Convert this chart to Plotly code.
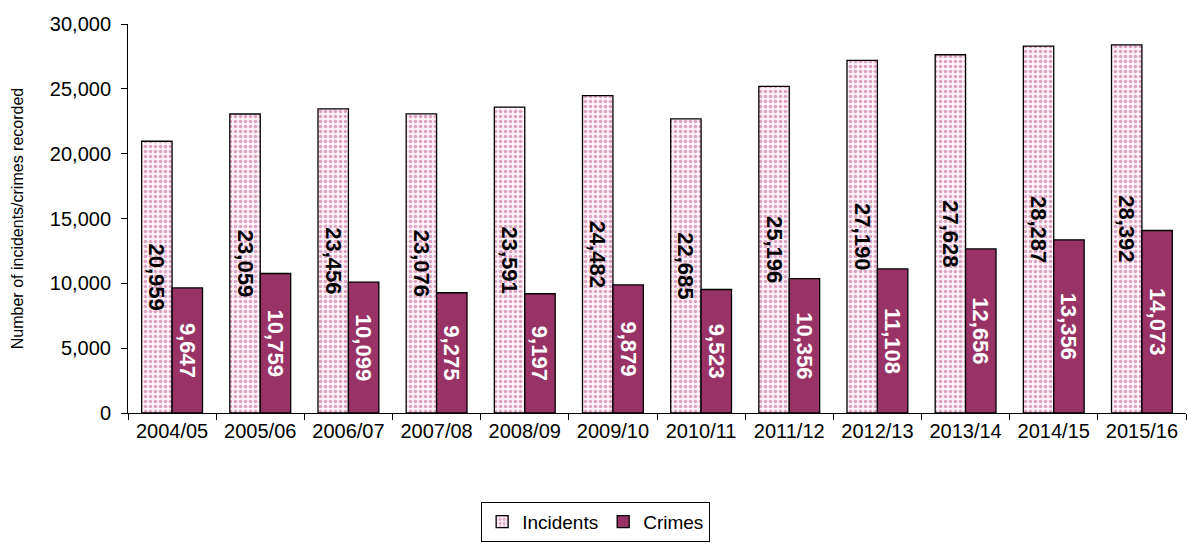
import plotly.graph_objects as go

years = ["2004/05", "2005/06", "2006/07", "2007/08", "2008/09", "2009/10",
         "2010/11", "2011/12", "2012/13", "2013/14", "2014/15", "2015/16"]
incidents = [20959, 23059, 23456, 23076, 23591, 24482, 22685, 25196, 27190, 27628, 28287, 28392]
crimes = [9647, 10759, 10099, 9275, 9197, 9879, 9523, 10356, 11108, 12656, 13356, 14073]

fig = go.Figure()
fig.add_trace(go.Bar(
    x=years, y=incidents, name="Incidents",
    marker=dict(color="white", line=dict(color="black", width=1.3),
                pattern=dict(shape=".", fgcolor="#c0508a", bgcolor="#fdf3f8", size=5, solidity=0.4)),
    text=[f"{v:,}" for v in incidents], textposition="inside", insidetextanchor="middle",
    textangle=90, constraintext="none",
    textfont=dict(family="Arial, Liberation Sans", size=22, color="black", weight="bold"),
))
fig.add_trace(go.Bar(
    x=years, y=crimes, name="Crimes",
    marker=dict(color="#993366", line=dict(color="black", width=1.3)),
    text=[f"{v:,}" for v in crimes], textposition="inside", insidetextanchor="middle",
    textangle=90, constraintext="none",
    textfont=dict(family="Arial, Liberation Sans", size=22, color="white", weight="bold"),
))

fig.update_layout(
    width=1187, height=544,
    margin=dict(l=128, r=1, t=24, b=131),
    barmode="group", bargap=0.31, bargroupgap=0,
    plot_bgcolor="white", paper_bgcolor="white",
    font=dict(family="Arial, Liberation Sans", size=20, color="black"),
    showlegend=True,
    legend=dict(orientation="h", x=0.442, xanchor="center", y=-0.228, yanchor="top",
                bordercolor="black", borderwidth=1, font=dict(size=19),
                itemwidth=30, traceorder="normal", tracegroupgap=0),
    xaxis=dict(showline=True, linecolor="black", linewidth=1, ticks="outside",
               tickson="boundaries", ticklen=6, tickcolor="black", showgrid=False,
               tickfont=dict(size=20)),
    yaxis=dict(range=[0, 30000], dtick=5000, tickformat=",", showline=True,
               linecolor="black", linewidth=1, ticks="outside", ticklen=6,
               tickcolor="black", showgrid=False, zeroline=False,
               ticklabelstandoff=6,
               title=dict(text="Number of incidents/crimes recorded", font=dict(size=16), standoff=22),
               tickfont=dict(size=20)),
)
fig.write_html("out.html")
